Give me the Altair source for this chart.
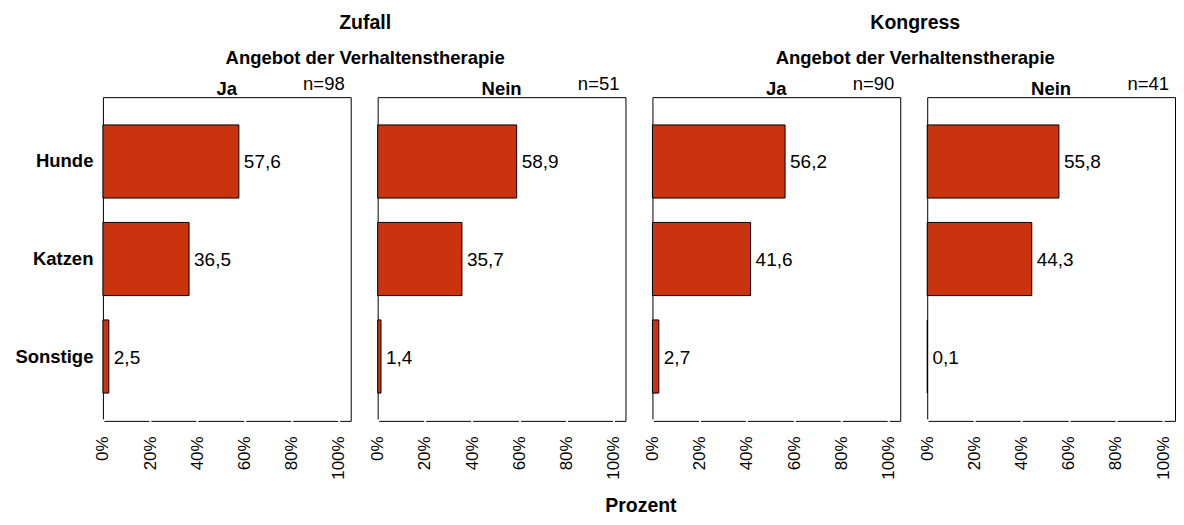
import altair as alt
import pandas as pd

categories = ["Hunde", "Katzen", "Sonstige"]
zufall_ja = [57.6, 36.5, 2.5]
zufall_nein = [58.9, 35.7, 1.4]
kongress_ja = [56.2, 41.6, 2.7]
kongress_nein = [55.8, 44.3, 0.1]
n_zufall = [98, 51]
n_kongress = [90, 41]
answers = ["Ja", "Nein"]
tick_values = [0, 20, 40, 60, 80, 100]

FONT = "Liberation Sans"
BAR = "#C9330E"
W, H = 248, 324
FS = 18.5
SP = 16


def panel(values, label, n, show_y):
    df = pd.DataFrame({"cat": categories, "v": values})
    df["lab"] = [f"{v:.1f}".replace(".", ",") for v in values]
    y_axis = alt.Axis(title=None, labelFontSize=FS, labelFontWeight="bold", labelFont=FONT,
                      labelColor="black", ticks=False, domain=False, labelPadding=10) if show_y else None
    y = alt.Y("cat:N", sort=categories, axis=y_axis,
              scale=alt.Scale(paddingInner=0.25, paddingOuter=0.285))
    x = alt.X("v:Q", scale=alt.Scale(domain=[0, 105], nice=False),
              axis=alt.Axis(title=None, values=tick_values, labelExpr="datum.value + '%'",
                            labelAngle=270, labelAlign="right", labelBaseline="middle",
                            labelFontSize=17, labelFont=FONT, labelColor="black",
                            labelPadding=14, domain=False, grid=False,
                            tickColor="white", tickSize=3, offset=-2, tickWidth=2))
    base = alt.Chart(df)
    bars = base.mark_bar(color=BAR, stroke="black", strokeWidth=1).encode(x=x, y=y)
    txt = base.mark_text(align="left", baseline="middle", dx=5, dy=1, fontSize=19, font=FONT,
                         color="black").encode(x="v:Q", y=alt.Y("cat:N", sort=categories), text="lab:N")
    hdf = pd.DataFrame({"n": [f"n={n}"], "h": [label]})
    ntxt = alt.Chart(hdf).mark_text(align="right", baseline="alphabetic", fontSize=FS, font=FONT,
                                    color="black").encode(x=alt.value(W - 6), y=alt.value(-7), text="n:N")
    htxt = alt.Chart(hdf).mark_text(align="center", baseline="alphabetic", fontSize=FS, font=FONT,
                                    fontWeight="bold", color="black").encode(
        x=alt.value(W / 2), y=alt.value(-2), text="h:N")
    return alt.layer(bars, txt, ntxt, htxt).properties(width=W, height=H)


def group(name, vals_a, vals_b, ns, first, dx):
    a = panel(vals_a, answers[0], ns[0], first)
    b = panel(vals_b, answers[1], ns[1], False)
    return alt.hconcat(a, b, spacing=SP).properties(
        title=alt.TitleParams(name, subtitle="Angebot der Verhaltenstherapie", fontSize=19.5,
                              fontWeight="bold", font=FONT, subtitleFont=FONT, subtitleFontSize=FS,
                              subtitleFontWeight="bold", subtitleColor="black", color="black",
                              subtitlePadding=16, anchor="middle", offset=6, dx=dx))


g1 = group("Zufall", zufall_ja, zufall_nein, n_zufall, True, 45)
g2 = group("Kongress", kongress_ja, kongress_nein, n_kongress, False, 6)

chart = alt.hconcat(g1, g2, spacing=SP).properties(
    title=alt.TitleParams("Prozent", orient="bottom", anchor="middle", fontSize=19.5, fontWeight="bold",
                          font=FONT, color="black", offset=17, dx=46),
    padding={"left": 6, "top": 4, "right": 0, "bottom": 0},
).configure(background="white").configure_view(stroke="black", strokeWidth=1)

chart.save("out.html", embed_options={"renderer": "svg", "actions": False})
